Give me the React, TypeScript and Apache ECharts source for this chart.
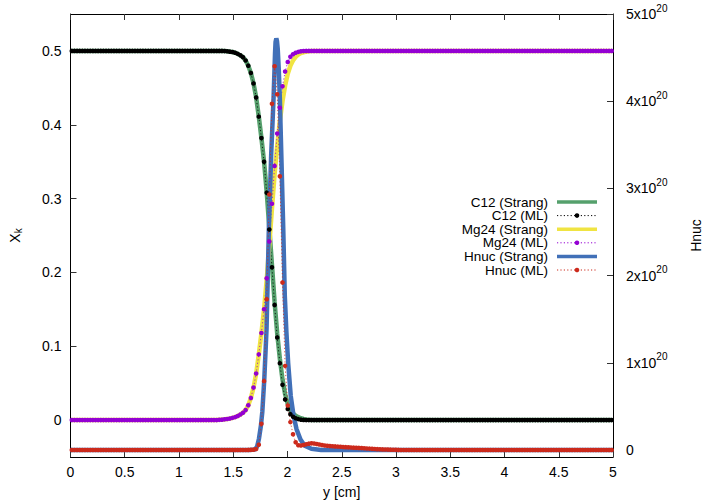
import React, { useEffect, useRef } from "react";
import * as echarts from "echarts";

// ---- grid of cells (x positions of the ML points) ----
const N_CELLS = 206;
const X_MAX = 5;
const X_TICK_STEP = 0.5;
const Y_TICKS = [0, 0.1, 0.2, 0.3, 0.4, 0.5];
const HNUC_TICKS = [0, 1e20, 2e20, 3e20, 4e20, 5e20];

// C12 mass fraction, ML (cells 58..88; plateau 0.5 left, 0 right)
const C12_ML_START = 58;
const C12_ML_LEFT = 0.5;
const C12_ML_RIGHT = 0;
const C12_ML = [
  0.4998, 0.4995, 0.499, 0.4985, 0.4975, 0.496, 0.494, 0.4915, 0.487, 0.48,
  0.47, 0.456, 0.437, 0.411, 0.382, 0.35, 0.308, 0.258, 0.207, 0.156, 0.112,
  0.077, 0.048, 0.028, 0.015, 0.008, 0.0045, 0.0025, 0.0013, 0.0006, 0.0002,
];

// C12 Strang
const C12_ST_START = 58;
const C12_ST_LEFT = 0.5;
const C12_ST_RIGHT = 0;
const C12_ST = [
  0.4998, 0.4995, 0.499, 0.4985, 0.4975, 0.496, 0.494, 0.4915, 0.487, 0.48,
  0.47, 0.456, 0.437, 0.411, 0.382, 0.35, 0.309, 0.26, 0.21, 0.16, 0.117,
  0.083, 0.055, 0.035, 0.022, 0.014, 0.009, 0.006, 0.004, 0.0025, 0.0015,
  0.0008, 0.0003,
];

// Mg24 ML (cells 56..88; plateau 0 left, 0.5 right)
const MG24_ML_START = 56;
const MG24_ML_LEFT = 0;
const MG24_ML_RIGHT = 0.5;
const MG24_ML = [
  0.0003, 0.0006, 0.001, 0.0015, 0.002, 0.003, 0.004, 0.0055, 0.0075, 0.01,
  0.0135, 0.02, 0.03, 0.044, 0.063, 0.089, 0.118, 0.15, 0.192, 0.242, 0.293,
  0.344, 0.388, 0.423, 0.452, 0.472, 0.485, 0.492, 0.4955, 0.4975, 0.4987,
  0.4994, 0.4998,
];

// Mg24 Strang
const MG24_ST_START = 56;
const MG24_ST_LEFT = 0;
const MG24_ST_RIGHT = 0.5;
const MG24_ST = [
  0.0003, 0.0006, 0.001, 0.0015, 0.002, 0.003, 0.004, 0.0055, 0.0075, 0.01,
  0.0135, 0.02, 0.03, 0.044, 0.063, 0.089, 0.118, 0.15, 0.19, 0.238, 0.286,
  0.333, 0.372, 0.405, 0.432, 0.453, 0.469, 0.48, 0.487, 0.492, 0.495, 0.497,
  0.498, 0.499, 0.4995, 0.4998,
];

// Hnuc ML (cells 66..124; 0 elsewhere)
const HNUC_ML_START = 66;
const HNUC_ML_LEFT = 0;
const HNUC_ML_RIGHT = 0;
const HNUC_ML = [
  0.0005e20, 0.001e20, 0.002e20, 0.004e20, 0.012e20, 0.06e20, 0.3e20, 0.79e20,
  1.73e20, 2.93e20, 3.97e20, 4.4e20, 4.08e20, 3.14e20, 1.92e20, 0.965e20,
  0.51e20, 0.32e20, 0.18e20, 0.088e20, 0.055e20, 0.052e20, 0.058e20, 0.066e20,
  0.073e20, 0.077e20, 0.075e20, 0.069e20, 0.063e20, 0.057e20, 0.052e20,
  0.048e20, 0.045e20, 0.043e20, 0.041e20, 0.039e20, 0.037e20, 0.035e20,
  0.033e20, 0.031e20, 0.029e20, 0.027e20, 0.025e20, 0.024e20, 0.022e20,
  0.02e20, 0.018e20, 0.016e20, 0.014e20, 0.012e20, 0.01e20, 0.008e20,
  0.007e20, 0.006e20, 0.005e20, 0.004e20, 0.003e20, 0.002e20, 0.001e20,
];

// Hnuc Strang: [y (cm), Hnuc]
const HNUC_ST_X = [
  0, 1.65, 1.7, 1.72, 1.737, 1.755, 1.768, 1.786, 1.807, 1.828, 1.85, 1.872,
  1.885, 1.89, 1.897, 1.903, 1.91, 1.92, 1.929, 1.945, 1.961, 1.975, 1.99,
  2.006, 2.03, 2.055, 2.083, 2.12, 2.159, 2.22, 2.31, 5,
];
const HNUC_ST = [
  0, 0, 0.005e20, 0.04e20, 0.13e20, 0.28e20, 0.44e20, 0.81e20, 1.39e20,
  2.53e20, 3.4e20, 4.05e20, 4.55e20, 4.68e20, 4.72e20, 4.69e20, 4.6e20,
  4.35e20, 4.05e20, 3.29e20, 2.53e20, 1.77e20, 1.35e20, 1.0e20, 0.62e20,
  0.4e20, 0.24e20, 0.12e20, 0.05e20, 0.015e20, 0, 0,
];

const LEGEND_LABELS = [
  "C12 (Strang)",
  "C12 (ML)",
  "Mg24 (Strang)",
  "Mg24 (ML)",
  "Hnuc (Strang)",
  "Hnuc (ML)",
];

const COLORS = {
  green: "#55a06c",
  black: "#000000",
  yellow: "#f0e442",
  purple: "#9400d3",
  blue: "#4170b8",
  red: "#cc2a1c",
};

const FONT = "'Liberation Sans', Arial, Helvetica, sans-serif";

function cellX(k: number) {
  return ((k + 0.5) * X_MAX) / N_CELLS;
}

function cellSeries(start: number, values: number[], left: number, right: number) {
  const out: number[][] = [];
  for (let k = 0; k < N_CELLS; k++) {
    let v: number;
    if (k < start) v = left;
    else if (k < start + values.length) v = values[k - start];
    else v = right;
    out.push([cellX(k), v]);
  }
  return out;
}

function lineSeries(name: string, data: number[][], color: string, yAxisIndex: number) {
  return {
    type: "line",
    name,
    data,
    yAxisIndex,
    symbol: "none",
    showSymbol: false,
    silent: true,
    lineStyle: { width: 4.5, color },
    itemStyle: { color },
  };
}

function mlSeries(name: string, data: number[][], color: string, yAxisIndex: number) {
  return {
    type: "line",
    name,
    data,
    yAxisIndex,
    symbol: "circle",
    symbolSize: 4.6,
    showSymbol: true,
    showAllSymbol: true,
    silent: true,
    itemStyle: { color, borderWidth: 0 },
    lineStyle: { width: 1, color, type: [1.2, 2.2], opacity: 0.8 },
  };
}

export default function App() {
  const ref = useRef<HTMLDivElement>(null);

  useEffect(() => {
    if (!ref.current) return;
    const chart = echarts.init(ref.current, null, { renderer: "svg" });

    const hnucSt = HNUC_ST_X.map((x, i) => [x, HNUC_ST[i]]);
    const legendColors = [COLORS.green, COLORS.black, COLORS.yellow, COLORS.purple, COLORS.blue, COLORS.red];
    const legendIsMl = [false, true, false, true, false, true];
    const legendGraphics: any[] = [];
    const rowY0 = 202;
    const rowStep = 13.6;
    LEGEND_LABELS.forEach((label, i) => {
      const y = rowY0 + i * rowStep;
      legendGraphics.push({
        type: "text",
        silent: true,
        style: {
          text: label,
          x: 548,
          y,
          textAlign: "right",
          align: "right",
          textVerticalAlign: "middle",
          verticalAlign: "middle",
          fontSize: 13.5,
          lineHeight: 13,
          fontFamily: FONT,
          fill: "#000",
        },
      });
      if (legendIsMl[i]) {
        legendGraphics.push({
          type: "line",
          silent: true,
          shape: { x1: 557, y1: y, x2: 597, y2: y },
          style: { stroke: legendColors[i], lineWidth: 1, lineDash: [1.2, 2.2] },
        });
        legendGraphics.push({
          type: "circle",
          silent: true,
          shape: { cx: 577, cy: y, r: 2.3 },
          style: { fill: legendColors[i] },
        });
      } else {
        legendGraphics.push({
          type: "line",
          silent: true,
          shape: { x1: 557, y1: y, x2: 597, y2: y },
          style: { stroke: legendColors[i], lineWidth: 3.5 },
        });
      }
    });

    const axisCommon = {
      axisLine: { show: true, onZero: false, lineStyle: { color: "#000", width: 1 } },
      axisTick: { show: true, inside: true, length: 6, lineStyle: { color: "#333", width: 1 } },
      splitLine: { show: false },
    };

    chart.setOption({
      animation: false,
      backgroundColor: "#fff",
      grid: { left: 68, right: 107, top: 14, bottom: 46, containLabel: false },
      xAxis: [
        {
          type: "value",
          min: 0,
          max: X_MAX,
          interval: X_TICK_STEP,
          position: "bottom",
          ...axisCommon,
          axisLabel: {
            margin: 8,
            fontSize: 14,
            fontFamily: FONT,
            color: "#000",
            formatter: (v: number) => String(v),
          },
          name: "y [cm]",
          nameLocation: "middle",
          nameGap: 28,
          nameTextStyle: { fontSize: 14, fontFamily: FONT, color: "#000" },
        },
        {
          type: "value",
          min: 0,
          max: X_MAX,
          interval: X_TICK_STEP,
          position: "top",
          ...axisCommon,
          axisLabel: { show: false },
        },
      ],
      yAxis: [
        {
          type: "value",
          min: -0.05,
          max: 0.55,
          position: "left",
          ...axisCommon,
          axisTick: { ...axisCommon.axisTick, customValues: Y_TICKS },
          axisLabel: {
            customValues: Y_TICKS,
            margin: 9,
            fontSize: 14,
            fontFamily: FONT,
            color: "#000",
            formatter: (v: number) => (Math.abs(v) < 1e-9 ? "0" : v.toFixed(1)),
          },
          name: "{x|X}{k|k}",
          nameLocation: "middle",
          nameGap: 47,
          nameRotate: 90,
          nameTextStyle: {
            rich: {
              x: { fontSize: 14, fontFamily: FONT, color: "#000" },
              k: { fontSize: 10, fontFamily: FONT, color: "#000", padding: [7, 0, 0, 0] },
            },
          },
        },
        {
          type: "value",
          min: -8e18,
          max: 5e20,
          position: "right",
          ...axisCommon,
          axisTick: { ...axisCommon.axisTick, customValues: HNUC_TICKS },
          axisLabel: {
            customValues: HNUC_TICKS,
            margin: 13,
            color: "#000",
            formatter: (v: number) => {
              if (v === 0) return "{b|0}";
              const m = Math.round(v / 1e20);
              return `{b|${m}x10}{s|20}`;
            },
            rich: {
              b: { fontSize: 14, fontFamily: FONT, color: "#000", verticalAlign: "bottom", lineHeight: 14 },
              s: {
                fontSize: 10,
                fontFamily: FONT,
                color: "#000",
                verticalAlign: "bottom",
                lineHeight: 10,
                padding: [0, 0, 8, 0],
              },
            },
          },
          name: "Hnuc",
          nameLocation: "middle",
          nameGap: 76,
          nameRotate: 90,
          nameTextStyle: { fontSize: 14, fontFamily: FONT, color: "#000" },
        },
      ],
      series: [
        lineSeries("C12 (Strang)", cellSeries(C12_ST_START, C12_ST, C12_ST_LEFT, C12_ST_RIGHT), COLORS.green, 0),
        mlSeries("C12 (ML)", cellSeries(C12_ML_START, C12_ML, C12_ML_LEFT, C12_ML_RIGHT), COLORS.black, 0),
        lineSeries("Mg24 (Strang)", cellSeries(MG24_ST_START, MG24_ST, MG24_ST_LEFT, MG24_ST_RIGHT), COLORS.yellow, 0),
        mlSeries("Mg24 (ML)", cellSeries(MG24_ML_START, MG24_ML, MG24_ML_LEFT, MG24_ML_RIGHT), COLORS.purple, 0),
        lineSeries("Hnuc (Strang)", hnucSt, COLORS.blue, 1),
        mlSeries("Hnuc (ML)", cellSeries(HNUC_ML_START, HNUC_ML, HNUC_ML_LEFT, HNUC_ML_RIGHT), COLORS.red, 1),
      ],
      graphic: legendGraphics,
    });

    return () => {
      chart.dispose();
    };
  }, []);

  return (
    <div
      ref={ref}
      style={{ position: "fixed", left: 0, top: 0, width: 720, height: 504, background: "#fff" }}
    />
  );
}
